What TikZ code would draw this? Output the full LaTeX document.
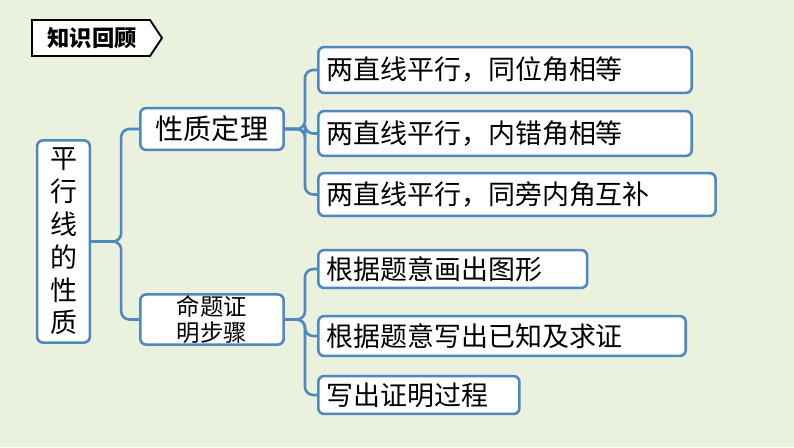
\documentclass[tikz,border=0pt]{standalone}
\usepackage{fontspec}
\setmainfont{Noto Sans CJK SC}
\usetikzlibrary{positioning}
\definecolor{bgcol}{HTML}{EAF1DD}
\definecolor{linecol}{HTML}{4F88C0}
\begin{document}
\begin{tikzpicture}[x=0.03cm,y=-0.03cm]
\tikzstyle{item}=[draw=linecol,line width=2.2pt,rounded corners=5pt,fill=white,font=\fontsize{23}{27}\selectfont,anchor=west,inner xsep=7pt,inner ysep=1pt,align=left]
\tikzstyle{brace}=[draw=linecol,line width=2.2pt,rounded corners=7pt]

\fill[bgcol] (0,0) rectangle (794,447);
\useasboundingbox (0,0) rectangle (794,447);

% title tag
\draw[line width=1.6pt,fill=white] (32,20) -- (150,20) -- (162,38) -- (150,56) -- (32,56) -- cycle;
\node (title) at (92,38) {\fontsize{19}{22}\selectfont\bfseries 知识回顾};

% root
\node[item,anchor=center,inner xsep=0pt,minimum width=53*0.85pt,text width=24pt,align=center,minimum height=203*0.85pt,font=\fontsize{23}{28}\selectfont] (root) at (63.5,241.5) {平\\行\\线\\的\\性\\质};

\node[item,minimum width=144*0.85pt,minimum height=42*0.85pt,text width=144*0.85pt-14pt,align=center,font=\fontsize{24}{28}\selectfont] (prop) at (139,129) {性质定理};
\node[item,minimum width=144*0.85pt,minimum height=43*0.85pt,text width=144*0.85pt-14pt,align=center,font=\fontsize{20}{22}\selectfont] (proof) at (139,319.5) {命题证\\明步骤};

\node[item,minimum height=46*0.85pt,text width=375*0.85pt-14pt] (p1) at (317,70) {两直线平行，同位角相等};
\node[item,minimum height=45*0.85pt,text width=375*0.85pt-14pt] (p2) at (317,133.5) {两直线平行，内错角相等};
\node[item,minimum height=43*0.85pt,text width=399*0.85pt-14pt] (p3) at (317,194.5) {两直线平行，同旁内角互补};
\node[item,minimum height=38*0.85pt,text width=270*0.85pt-14pt] (s1) at (317,269) {根据题意画出图形};
\node[item,minimum height=40*0.85pt,text width=369*0.85pt-14pt] (s2) at (317,336) {根据题意写出已知及求证};
\node[item,minimum height=38*0.85pt,text width=202*0.85pt-14pt] (s3) at (317,395) {写出证明过程};

% connectors
\foreach \c in {prop,proof}
  \draw[brace] (root.east) -- ++(30,0) |- (\c.west);
\foreach \c in {p1,p2,p3}
  \draw[brace] (prop.east) -- ++(20,0) |- (\c.west);
\foreach \c in {s1,s2,s3}
  \draw[brace] (proof.east) -- ++(20,0) |- (\c.west);
\end{tikzpicture}
\end{document}
